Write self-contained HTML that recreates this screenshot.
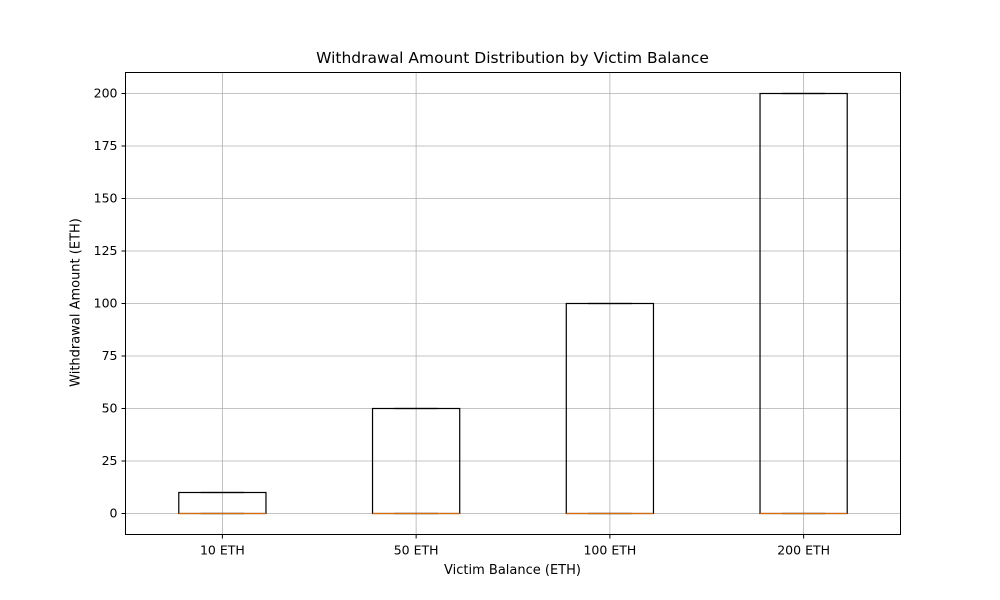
<!DOCTYPE html>
<html><head><meta charset="utf-8"><style>
html,body{margin:0;padding:0;background:#fff;}
svg{display:block;font-family:"DejaVu Sans","Liberation Sans",sans-serif;}
</style></head><body>
<svg id="chart" width="1000" height="600" viewBox="0 0 1000 600"></svg>
<script>
const categories = ["10 ETH","50 ETH","100 ETH","200 ETH"];
const q1Values = [0,0,0,0];
const medianValues = [0,0,0,0];
const q3Values = [10,50,100,200];
const minValues = [0,0,0,0];
const maxValues = [10,50,100,200];
const yTicks = [0,25,50,75,100,125,150,175,200];

const L=125.5,R=900.5,T=72.5,B=534.5, yMin=-10,yMax=210;
const svg=document.getElementById('chart');
const NS='http://www.w3.org/2000/svg';
function y(v){return B-(v-yMin)/(yMax-yMin)*(B-T);}
function x(i){return L+(R-L)*(i+0.5)/categories.length;}
const boxW=(R-L)/categories.length*0.45;
function mk(tag,attrs,parent){const e=document.createElementNS(NS,tag);for(const k in attrs)e.setAttribute(k,attrs[k]);(parent||svg).appendChild(e);return e;}

const grid=mk('g',{});


yTicks.forEach(t=>{mk('line',{x1:L,x2:R,y1:y(t),y2:y(t),stroke:'#b0b0b0','stroke-width':0.8},grid);});
categories.forEach((c,i)=>{mk('line',{x1:x(i),x2:x(i),y1:T,y2:B,stroke:'#b0b0b0','stroke-width':0.8},grid);});

categories.forEach((c,i)=>{
  const g=mk('g',{});
  
  
  const cx=x(i);
  mk('rect',{x:cx-boxW/2,y:y(q3Values[i]),width:boxW,height:y(q1Values[i])-y(q3Values[i]),fill:'none',stroke:'#000','stroke-width':1.2},g);
  mk('line',{x1:cx,x2:cx,y1:y(q3Values[i]),y2:y(maxValues[i]),stroke:'#000'},g);
  mk('line',{x1:cx,x2:cx,y1:y(q1Values[i]),y2:y(minValues[i]),stroke:'#000'},g);
  mk('line',{x1:cx-boxW/4,x2:cx+boxW/4,y1:y(maxValues[i]),y2:y(maxValues[i]),stroke:'#000','stroke-width':1.2},g);
  mk('line',{x1:cx-boxW/4,x2:cx+boxW/4,y1:y(minValues[i]),y2:y(minValues[i]),stroke:'#000','stroke-width':1.2},g);
  mk('line',{x1:cx-boxW/2,x2:cx+boxW/2,y1:y(medianValues[i]),y2:y(medianValues[i]),stroke:'#ff7f0e','stroke-width':1.2,'stroke-opacity':0.85},g);
});

mk('rect',{x:L,y:T,width:R-L,height:B-T,fill:'none',stroke:'#000','stroke-width':1});

yTicks.forEach(t=>{
  mk('line',{x1:L-4,x2:L,y1:y(t),y2:y(t),stroke:'#000'});
  const tx=mk('text',{x:L-8,y:y(t)+4,'text-anchor':'end','font-size':12.5,fill:'#000'});
  tx.textContent=t;
  
  
});
categories.forEach((c,i)=>{
  mk('line',{x1:x(i),x2:x(i),y1:B,y2:B+4,stroke:'#000'});
  const tx=mk('text',{x:x(i),y:B+20,'text-anchor':'middle','font-size':12.5,fill:'#000'});
  tx.textContent=c;
  
  
});
</script>
<div style="position:absolute;left:0;top:0;width:1000px;height:600px;pointer-events:none;font-family:'DejaVu Sans','Liberation Sans',sans-serif;">
  <div style="position:absolute;left:125px;width:775px;top:49px;text-align:center;font-size:15.5px;">Withdrawal Amount Distribution by Victim Balance</div>
  <div style="position:absolute;left:125px;width:775px;top:563px;text-align:center;font-size:13px;">Victim Balance (ETH)</div>
  <div style="position:absolute;left:-24px;top:295px;width:200px;text-align:center;font-size:13px;transform:rotate(-90deg);">Withdrawal Amount (ETH)</div>
</div>
</body></html>
